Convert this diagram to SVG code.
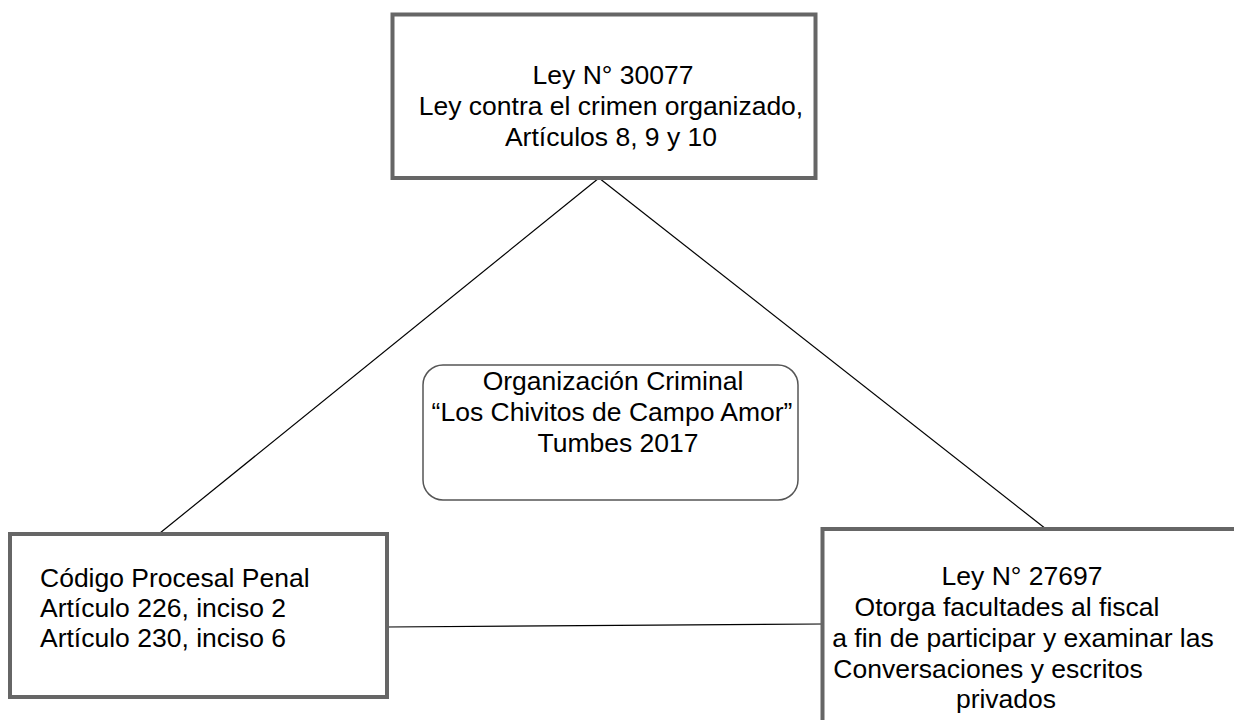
<svg xmlns="http://www.w3.org/2000/svg" width="1234" height="720" viewBox="0 0 1234 720">
  <style>
    .box { fill: #ffffff; stroke: #666666; stroke-width: 4; }
    .rbox { fill: #ffffff; stroke: #555555; stroke-width: 1.5; }
    .conn { stroke: #000000; stroke-width: 1.2; fill: none; }
    text { font-family: "Liberation Sans", Arial, sans-serif; font-size: 26.5px; fill: #000000; }
    .c { text-anchor: middle; }
  </style>
  <rect x="0" y="0" width="1234" height="720" fill="#ffffff"/>
  <g id="connectors">
    <line class="conn" x1="599" y1="178" x2="160" y2="533"/>
    <line class="conn" x1="599" y1="178" x2="1046" y2="529"/>
    <line class="conn" x1="387" y1="627" x2="822" y2="624"/>
  </g>
  <g id="node-ley30077">
    <rect class="box" x="392.5" y="14.5" width="423" height="163.5"/>
    <text class="c" x="613" y="84">Ley N° 30077</text>
    <text class="c" x="611" y="115">Ley contra el crimen organizado,</text>
    <text class="c" x="611" y="146">Artículos 8, 9 y 10</text>
  </g>
  <g id="node-organizacion">
    <rect class="rbox" x="423" y="365" width="375" height="135" rx="20" ry="20"/>
    <text class="c" x="613" y="390">Organización Criminal</text>
    <text class="c" x="612" y="421">“Los Chivitos de Campo Amor”</text>
    <text class="c" x="618" y="452">Tumbes 2017</text>
  </g>
  <g id="node-codigo">
    <rect class="box" x="10" y="534" width="377" height="163"/>
    <text x="40" y="587">Código Procesal Penal</text>
    <text x="40" y="617">Artículo 226, inciso 2</text>
    <text x="40" y="647">Artículo 230, inciso 6</text>
  </g>
  <g id="node-ley27697">
    <rect class="box" x="822.5" y="529" width="430" height="210"/>
    <text class="c" x="1022" y="585">Ley N° 27697</text>
    <text class="c" x="1007" y="616">Otorga facultades al fiscal</text>
    <text class="c" x="1023" y="647">a fin de participar y examinar las</text>
    <text class="c" x="988" y="678">Conversaciones y escritos</text>
    <text class="c" x="1006" y="708">privados</text>
  </g>
</svg>
